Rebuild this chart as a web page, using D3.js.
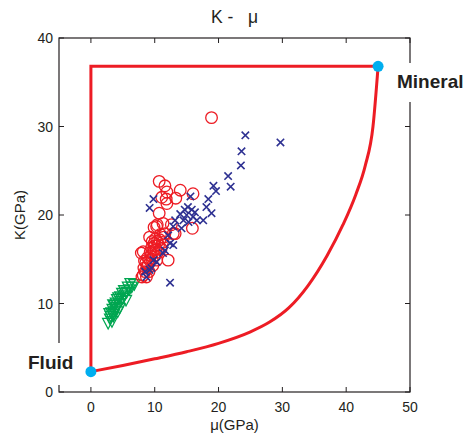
<!DOCTYPE html>
<html>
<head>
<meta charset="utf-8">
<script src="https://cdn.jsdelivr.net/npm/d3@7"></script>
<style>
  body { margin: 0; background: #fff; }
  text { font-family: Arial, "Liberation Sans", Helvetica, sans-serif; fill: #231f20; }
</style>
</head>
<body>
<div id="chart"></div>
<script>
const xTicks = [0, 10, 20, 30, 40, 50];
const yTicks = [0, 10, 20, 30, 40];

// end members (mu, K)
const fluid = [0, 2.3];
const mineral = [45, 36.8];

// lower bound curve, fluid -> mineral
const boundCurve = [
  [0, 2.3], [5, 3.0], [10, 3.75], [15, 4.55], [20, 5.5], [25, 6.8], [28, 7.9],
  [31, 9.5], [34, 12.0], [37, 15.4], [39.5, 18.9], [41.5, 22.3], [43, 25.6],
  [44.2, 30], [45, 36.8]
];

const greenPts = [
  [2.7, 7.8], [3.0, 8.3], [3.3, 8.0], [3.5, 8.6], [3.2, 9.0], [3.8, 9.2], [3.6, 8.8],
  [4.0, 9.6], [3.4, 9.4], [4.2, 9.1], [4.4, 10.0], [3.9, 10.1], [4.7, 10.3], [4.1, 10.5],
  [5.0, 10.6], [4.6, 10.8], [5.3, 11.0], [4.9, 11.2], [5.6, 11.3], [5.2, 11.5], [6.0, 11.6],
  [5.8, 11.9], [6.4, 11.9], [6.8, 12.2], [5.5, 10.4], [4.5, 9.5], [3.1, 8.6], [3.7, 9.8],
  [4.3, 10.7], [6.2, 12.3], [2.9, 8.9], [3.5, 9.9]
];

const redPts = [
  [18.9, 31.0], [10.7, 23.8], [11.6, 23.3], [11.9, 22.6], [14.0, 22.8], [16.0, 22.4],
  [11.1, 22.0], [11.8, 21.8], [13.3, 21.9], [11.9, 21.3], [10.7, 20.2], [10.4, 18.9],
  [11.3, 19.05], [12.6, 18.9], [15.9, 18.5], [9.9, 18.6], [9.2, 17.5], [12.9, 17.9],
  [11.6, 17.9], [13.2, 17.9], [12.1, 14.9], [10.3, 18.7],
  [8.0, 13.0], [8.2, 13.2], [8.5, 13.6], [8.3, 14.0], [8.8, 14.2], [8.6, 14.6], [9.0, 14.4],
  [9.2, 14.9], [8.9, 15.2], [9.4, 15.4], [9.6, 15.0], [9.3, 15.8], [9.8, 16.0], [9.5, 16.3],
  [10.0, 16.5], [10.2, 16.1], [9.9, 16.8], [10.4, 17.0], [10.6, 16.6], [10.1, 17.3],
  [10.8, 17.2], [7.9, 15.7], [8.2, 15.85], [8.7, 13.0], [9.1, 13.6], [10.0, 15.4],
  [10.5, 15.8], [11.0, 16.2], [9.6, 17.0], [10.9, 17.8], [11.2, 16.9], [8.4, 14.8],
  [9.7, 14.3], [10.3, 14.9], [11.4, 17.5]
];

const bluePts = [
  [24.2, 29.0], [29.7, 28.2], [23.6, 27.2], [23.5, 25.6], [21.5, 24.4], [21.9, 23.2],
  [19.2, 23.3], [19.6, 22.7], [18.4, 21.8], [18.1, 20.9], [15.6, 22.1], [18.9, 20.2],
  [17.6, 19.4], [14.7, 20.6], [15.8, 20.6], [15.0, 20.0], [16.0, 19.8], [14.5, 19.4],
  [15.3, 19.2], [16.6, 19.4], [14.2, 18.5], [13.2, 19.4], [12.9, 18.7], [12.4, 16.8],
  [11.3, 15.7], [12.4, 12.35], [9.8, 21.8], [9.2, 20.8], [12.1, 17.7], [12.9, 16.6],
  [11.6, 16.0], [10.3, 14.7], [9.5, 14.0], [9.8, 14.9], [8.5, 13.6], [9.2, 13.8],
  [8.7, 13.0], [15.2, 20.9], [16.3, 20.3], [14.0, 20.1]
];

const width = 466, height = 441;
const margin = { top: 38, right: 56, bottom: 49, left: 59 };

const svg = d3.select("#chart").append("svg")
  .attr("width", width)
  .attr("height", height);

const x = d3.scaleLinear().domain([-5, 50]).range([margin.left, width - margin.right]);
const y = d3.scaleLinear().domain([0, 40]).range([height - margin.bottom, margin.top]);

const axisColor = "#231f20";
const red = "#ed1c24";

// box frame
svg.append("rect")
  .attr("x", x(-5)).attr("y", y(40))
  .attr("width", x(50) - x(-5)).attr("height", y(0) - y(40))
  .attr("fill", "none").attr("stroke", axisColor).attr("stroke-width", 1.2);

// inward ticks on all four sides
const tickLen = 5;
const tk = svg.append("g").attr("stroke", axisColor).attr("stroke-width", 1);
xTicks.forEach(v => {
  tk.append("line").attr("x1", x(v)).attr("x2", x(v)).attr("y1", y(0)).attr("y2", y(0) - tickLen);
  tk.append("line").attr("x1", x(v)).attr("x2", x(v)).attr("y1", y(40)).attr("y2", y(40) + tickLen);
});
yTicks.forEach(v => {
  tk.append("line").attr("x1", x(-5)).attr("x2", x(-5) + tickLen).attr("y1", y(v)).attr("y2", y(v));
  tk.append("line").attr("x1", x(50)).attr("x2", x(50) - tickLen).attr("y1", y(v)).attr("y2", y(v));
});

// tick labels
svg.append("g").selectAll("text").data(xTicks).join("text")
  .attr("x", d => x(d)).attr("y", y(0) + 20)
  .attr("text-anchor", "middle").style("font-size", "14px")
  .text(d => d);
svg.append("g").selectAll("text").data(yTicks).join("text")
  .attr("x", x(-5) - 6).attr("y", d => y(d) + 5)
  .attr("text-anchor", "end").style("font-size", "14px")
  .text(d => d);

// axis titles
svg.append("text")
  .attr("x", (x(-5) + x(50)) / 2).attr("y", 430)
  .attr("text-anchor", "middle").style("font-size", "15px")
  .text("\u03bc(GPa)");
svg.append("text")
  .attr("transform", `translate(25,${(y(0) + y(40)) / 2}) rotate(-90)`)
  .attr("text-anchor", "middle").style("font-size", "15px")
  .text("K(GPa)");
svg.append("text")
  .attr("x", (x(-5) + x(50)) / 2).attr("y", 23)
  .attr("text-anchor", "middle").style("font-size", "17.5px")
  .style("white-space", "pre")
  .text("K -   \u03bc");

// end member labels (white boxes cut the frame)
svg.append("rect").attr("x", 24).attr("y", 343).attr("width", 56).attr("height", 42).attr("fill", "#fff");
svg.append("text").attr("x", 28).attr("y", 369).style("font-size", "19px").style("font-weight", "bold")
  .text("Fluid");
svg.append("rect").attr("x", 394).attr("y", 63).attr("width", 72).attr("height", 39).attr("fill", "#fff");
svg.append("text").attr("x", 397).attr("y", 88).style("font-size", "19px").style("font-weight", "bold")
  .text("Mineral");

// bounds
const line = d3.line().x(d => x(d[0])).y(d => y(d[1]));
svg.append("path")
  .attr("d", line([fluid, [fluid[0], mineral[1]], mineral]))
  .attr("fill", "none").attr("stroke", red).attr("stroke-width", 3);
svg.append("path")
  .attr("d", line.curve(d3.curveMonotoneX)(boundCurve))
  .attr("fill", "none").attr("stroke", red).attr("stroke-width", 3);

// data
const tri = "M-5.5,-4.5L5.5,-4.5L0,6Z";
svg.append("g").selectAll("path").data(greenPts).join("path")
  .attr("transform", d => `translate(${x(d[0])},${y(d[1])})`)
  .attr("d", tri)
  .attr("fill", "none").attr("stroke", "#00a651").attr("stroke-width", 1.3);

svg.append("g").selectAll("circle").data(redPts).join("circle")
  .attr("cx", d => x(d[0])).attr("cy", d => y(d[1])).attr("r", 5.8)
  .attr("fill", "none").attr("stroke", red).attr("stroke-width", 1.3);

const cross = "M-3.7,-3.7L3.7,3.7M-3.7,3.7L3.7,-3.7";
svg.append("g").selectAll("path").data(bluePts).join("path")
  .attr("transform", d => `translate(${x(d[0])},${y(d[1])})`)
  .attr("d", cross)
  .attr("fill", "none").attr("stroke", "#2e3192").attr("stroke-width", 1.6);

// end member dots
svg.append("g").selectAll("circle").data([fluid, mineral]).join("circle")
  .attr("cx", d => x(d[0])).attr("cy", d => y(d[1])).attr("r", 5.5)
  .attr("fill", "#00aeef");
</script>
</body>
</html>
